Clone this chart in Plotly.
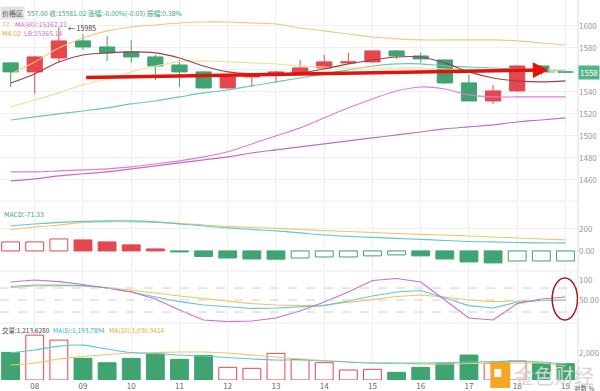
import plotly.graph_objects as go

# ---------------- data ----------------
dates = ["08", "09", "10", "11", "12", "13", "14", "15", "16", "17", "18", "19"]
idx = list(range(24))
date_pos = [1, 3, 5, 7, 9, 11, 13, 15, 17, 19, 21, 23]

open_ = [15664, 15582, 15709, 15864, 15809, 15764, 15718, 15645, 15582, 15436, 15536, 15555,
         15573, 15618, 15664, 15673, 15773, 15727, 15691, 15482, 15318, 15409, 15636, 15582]
high = [15673, 15727, 15985, 15927, 15909, 15873, 15736, 15691, 15591, 15545, 15573, 15591,
        15691, 15736, 15755, 15773, 15782, 15755, 15691, 15555, 15464, 15645, 15645, 15591]
low = [15445, 15382, 15673, 15782, 15682, 15664, 15509, 15445, 15427, 15427, 15445, 15482,
       15564, 15609, 15655, 15664, 15700, 15664, 15473, 15318, 15291, 15400, 15555, 15573]
close = [15582, 15718, 15864, 15809, 15755, 15718, 15636, 15582, 15436, 15536, 15564, 15582,
         15618, 15673, 15673, 15773, 15727, 15700, 15482, 15318, 15409, 15636, 15582, 15581]

ma_short = [15482, 15564, 15673, 15736, 15755, 15764, 15755, 15709, 15636, 15582, 15564, 15564,
            15573, 15609, 15655, 15691, 15718, 15718, 15664, 15582, 15527, 15500, 15491, 15500]
ub = [15564, 15673, 15800, 15891, 15955, 15991, 16009, 16027, 16036, 16036, 16027, 16018,
      15982, 15955, 15927, 15900, 15882, 15873, 15873, 15873, 15873, 15864, 15845, 15827]
mb = [15264, 15327, 15391, 15464, 15518, 15582, 15636, 15673, 15682, 15673, 15664, 15655,
      15636, 15627, 15618, 15618, 15618, 15618, 15609, 15600, 15600, 15600, 15600, 15600]
ma_teal = [15145, 15173, 15200, 15227, 15255, 15291, 15318, 15355, 15391, 15418, 15455, 15491,
           15527, 15564, 15600, 15636, 15655, 15655, 15636, 15627, 15618, 15609, 15600, 15591]
lb = [14673, 14673, 14682, 14691, 14700, 14718, 14745, 14773, 14809, 14855, 14927, 15000,
      15073, 15164, 15255, 15336, 15409, 15445, 15427, 15373, 15355, 15355, 15355, 15355]
ma60 = [14591, 14609, 14636, 14655, 14673, 14700, 14727, 14755, 14782, 14809, 14845, 14873,
        14900, 14927, 14955, 14982, 15009, 15036, 15064, 15082, 15100, 15127, 15145, 15164]

macd_hist = [82, 82, 109, 100, 82, 55, 18, -9, -50, -64, -73, -75,
             -64, -55, -55, -45, -36, -45, -73, -100, -109, -91, -91, -91]
dif = [227, 245, 259, 268, 273, 273, 264, 245, 227, 209, 195, 182,
       164, 145, 132, 123, 114, 105, 95, 86, 82, 77, 73, 73]
dea = [195, 218, 236, 259, 264, 264, 259, 250, 236, 223, 214, 205,
       195, 186, 177, 168, 159, 150, 145, 136, 127, 118, 109, 100]

k_line = [84, 87.5, 87.5, 86, 80, 70, 57.5, 46, 37.5, 32.5, 29, 30,
          32.5, 36, 47.5, 60, 70, 74, 55, 36, 30, 45, 49, 50]
d_line = [81, 85, 86, 85, 81, 75, 67.5, 60, 54, 47.5, 41, 37.5,
          36, 37.5, 44, 51, 59, 62.5, 57.5, 50, 46, 47.5, 49, 50]
j_line = [95, 100, 96, 89, 80, 70, 52.5, 25, 0, -4, -2.5, 5,
          22.5, 45, 70, 99, 104, 95, 50, 5, 0, 41, 52.5, 57.5]

volume = [2052, 3333, 2963, 1607, 1281, 1607, 1926, 1533, 1830, 941, 867, 1978,
          1533, 1281, 741, 793, 570, 941, 1237, 1852, 1237, 1407, 1237, 1213]
vol_ma5 = [2000, 2222, 2519, 2593, 2296, 2037, 1963, 1852, 1778, 1667, 1556, 1481,
           1481, 1407, 1333, 1259, 1259, 1259, 1296, 1333, 1370, 1407, 1333, 1194]
vol_ma10 = [1111, 1259, 1556, 1741, 1889, 2000, 2037, 2074, 2074, 2000, 1852, 1704,
            1556, 1444, 1333, 1259, 1222, 1185, 1185, 1222, 1259, 1259, 1259, 1030]

main_ticks = [14600, 14800, 15000, 15200, 15400, 15600, 15800, 16000]
main_tick_text = ["1460", "1480", "1500", "1520", "1540", "", "1580", "1600"]

# ---------------- styles ----------------
RED = "#e5474f"
GREEN = "#3fa472"
FONT = "Noto Sans CJK SC"
XR = [-0.44, 23.52]

fig = go.Figure()

# main panel
fig.add_trace(go.Candlestick(
    x=idx, open=open_, high=high, low=low, close=close,
    increasing=dict(line=dict(color=RED, width=1), fillcolor=RED),
    decreasing=dict(line=dict(color=GREEN, width=1), fillcolor=GREEN),
    whiskerwidth=0, xaxis="x", yaxis="y", showlegend=False, hoverinfo="skip"))

for series, col in [(ma60, "#c46bc9"), (lb, "#e27ad6"), (ma_teal, "#64c9b8"),
                    (mb, "#f3df93"), (ub, "#f4c57a"), (ma_short, "#a23d4b")]:
    fig.add_trace(go.Scatter(x=idx, y=series, mode="lines", line=dict(color=col, width=1.1, shape="spline"),
                             xaxis="x", yaxis="y", showlegend=False, hoverinfo="skip"))

# MACD panel
h_fill, h_line = [], []
prev = None
for h in macd_hist:
    if h >= 0:
        hollow = prev is None or h >= prev
        c = RED
    else:
        hollow = not (prev is not None and h < prev)
        c = GREEN
    h_fill.append("white" if hollow else c)
    h_line.append(c)
    prev = h
fig.add_trace(go.Bar(x=idx, y=macd_hist, width=0.74, marker=dict(color=h_fill, line=dict(color=h_line, width=1)),
                     xaxis="x2", yaxis="y2", showlegend=False, hoverinfo="skip"))
fig.add_trace(go.Scatter(x=idx, y=dea, mode="lines", line=dict(color="#f2c462", width=1.1, shape="spline"),
                         xaxis="x2", yaxis="y2", showlegend=False, hoverinfo="skip"))
fig.add_trace(go.Scatter(x=idx, y=dif, mode="lines", line=dict(color="#5cc8d6", width=1.1, shape="spline"),
                         xaxis="x2", yaxis="y2", showlegend=False, hoverinfo="skip"))

# KDJ panel
for series, col in [(d_line, "#f2c462"), (k_line, "#5cc8d6"), (j_line, "#c86fd0")]:
    fig.add_trace(go.Scatter(x=idx, y=series, mode="lines", line=dict(color=col, width=1.1),
                             xaxis="x3", yaxis="y3", showlegend=False, hoverinfo="skip"))

# volume panel
v_fill, v_line = [], []
for o, c in zip(open_, close):
    if c >= o:
        v_fill.append("white"); v_line.append(RED)
    else:
        v_fill.append(GREEN); v_line.append(GREEN)
fig.add_trace(go.Bar(x=idx, y=volume, width=0.74, marker=dict(color=v_fill, line=dict(color=v_line, width=1)),
                     xaxis="x4", yaxis="y4", showlegend=False, hoverinfo="skip"))
fig.add_trace(go.Scatter(x=idx, y=vol_ma10, mode="lines", line=dict(color="#f2c462", width=1.1, shape="spline"),
                         xaxis="x4", yaxis="y4", showlegend=False, hoverinfo="skip"))
fig.add_trace(go.Scatter(x=idx, y=vol_ma5, mode="lines", line=dict(color="#5cc8d6", width=1.1, shape="spline"),
                         xaxis="x4", yaxis="y4", showlegend=False, hoverinfo="skip"))

# ---------------- axes ----------------
grid = "#f0f0f0"
xcommon = dict(range=XR, showgrid=True, gridcolor=grid, tickvals=date_pos, zeroline=False,
               showline=False, ticks="")
yfont = dict(size=8, color="#999", family=FONT)
fig.update_layout(
    width=600, height=391, margin=dict(l=0, r=20, t=0, b=11),
    paper_bgcolor="white", plot_bgcolor="white",
    font=dict(family=FONT),
    boxgap=0.1,
    xaxis=dict(**xcommon, anchor="y", showticklabels=False, rangeslider=dict(visible=False)),
    xaxis2=dict(**xcommon, anchor="y2", showticklabels=False, matches="x"),
    xaxis3=dict(**xcommon, anchor="y3", showticklabels=False, matches="x"),
    xaxis4=dict(**xcommon, anchor="y4", showticklabels=True, ticktext=dates, matches="x",
                tickfont=dict(size=8, color="#666", family=FONT)),
    yaxis=dict(domain=[0.474, 1], range=[14418, 16236], side="right", tickvals=main_ticks,
               ticktext=main_tick_text, tickfont=yfont, gridcolor=grid, zeroline=False, anchor="x"),
    yaxis2=dict(domain=[0.2895, 0.466], range=[-173, 436], side="right", tickvals=[0, 200],
                ticktext=["0.00", "200"], tickfont=yfont, gridcolor=grid, zeroline=False, anchor="x2"),
    yaxis3=dict(domain=[0.1526, 0.284], range=[-5, 120], side="right", tickvals=[50, 100],
                ticktext=["50.00", "100"], tickfont=yfont, showgrid=False, zeroline=False, anchor="x3"),
    yaxis4=dict(domain=[0, 0.147], range=[0, 4148], side="right", tickvals=[2000],
                ticktext=["2,000"], tickfont=yfont, showgrid=False, zeroline=False, anchor="x4"),
)

# ---------------- shapes ----------------
shapes = []
for lvl in [20, 50, 80]:
    shapes.append(dict(type="line", xref="paper", yref="y3", x0=0, x1=1, y0=lvl, y1=lvl,
                       line=dict(color="#cfcfcf", width=1, dash="dash")))
for yp in [1 - 201 / 380, 1 - 271 / 380, 1 - 323 / 380]:
    shapes.append(dict(type="line", xref="paper", yref="paper", x0=0, x1=1, y0=yp, y1=yp,
                       line=dict(color="#ececec", width=1)))
shapes.append(dict(type="line", xref="paper", yref="paper", x0=1, x1=1, y0=-0.03, y1=1,
                   line=dict(color="#dddddd", width=1)))
# current price dashed line
shapes.append(dict(type="line", xref="x", yref="y", x0=22.2, x1=XR[1], y0=close[-1], y1=close[-1],
                   line=dict(color="#5cb88f", width=1, dash="dash")))
# ellipse on KDJ
shapes.append(dict(type="circle", xref="x3", yref="y3", x0=22.45, x1=23.5, y0=0, y1=105,
                   line=dict(color="#a3191b", width=1.5)))
# watermark icon
shapes.append(dict(type="rect", xref="paper", yref="paper", x0=492 / 580, x1=512 / 580,
                   y0=1 - 388 / 380, y1=1 - 362 / 380, fillcolor="#f5a623", line=dict(width=0)))
shapes.append(dict(type="rect", xref="paper", yref="paper", x0=496 / 580, x1=503 / 580,
                   y0=1 - 377 / 380, y1=1 - 369 / 380, fillcolor="white", line=dict(width=0)))
fig.update_layout(shapes=shapes)

# ---------------- annotations ----------------
def ptext(px, py, text, color, size=7, bg=None):
    d = dict(xref="paper", yref="paper", x=px / 580, y=1 - py / 380, text=text, showarrow=False,
             xanchor="left", yanchor="middle", font=dict(size=size, color=color, family=FONT))
    if bg:
        d["bgcolor"] = bg
    return d

ann = [
    ptext(0, 13, "价格区", "#555", 7, "#e3e3e3"),
    ptext(25, 13, "557.00 收:15581.02 涨幅:-0.00%(-0.03) 振幅:0.38%", "#3aa57a", 6.8),
    ptext(0, 24, "77", "#e8c04a", 6.8),
    ptext(13, 24, "MA(60):15162.21", "#d070d0", 6.8),
    ptext(0, 33, "M4.02", "#f0a030", 6.8),
    ptext(22, 33, "LB:15365.14", "#d070d0", 6.8),
    ptext(2, 214, "MACD:-71.33", "#3aa57a", 6.8),
    ptext(0, 330, "交量:1,213.6280", "#444", 6.5),
    ptext(51, 330, "MA(5):1,193.7894", "#2fb6b6", 6.5),
    ptext(107, 330, "MA(10):1,030.3414", "#e6a628", 6.5),
    ptext(574, 388, "对数 %", "#555", 6.5),
    ptext(514, 375, "金色财经", "#d6d6d6", 20),
    dict(xref="x", yref="y", x=2.3, y=high[2], text="← 15985", showarrow=False, xanchor="left",
         yanchor="middle", font=dict(size=7, color="#333", family=FONT)),
    dict(xref="paper", yref="y", x=1.0, y=close[-1], text="1558", showarrow=False, xanchor="left",
         yanchor="middle", bgcolor="#55b58a", borderpad=1, font=dict(size=8, color="white", family=FONT)),
    dict(xref="x", yref="y", x=22.3, y=15600, axref="x", ayref="y", ax=3.07, ay=15530, text="",
         showarrow=True, arrowhead=2, arrowsize=0.9, arrowwidth=3.5, arrowcolor="#e5120a"),
]
fig.update_layout(annotations=ann)

fig.write_html("out.html", config={"displayModeBar": False},
               post_script="document.body.style.margin='0';document.body.style.padding='0';")
